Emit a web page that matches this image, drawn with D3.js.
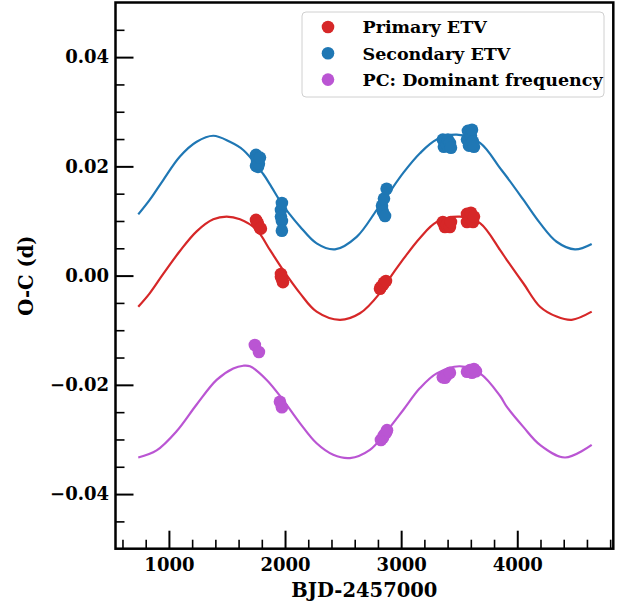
<!DOCTYPE html>
<meta charset="utf-8">
<script src="https://d3js.org/d3.v7.min.js"></script>
<style>
  body { margin: 0; background: #fff; }
  text { font-family: "DejaVu Serif", serif; font-weight: bold; }
</style>
<div id="chart"></div>
<script>
// fitted model curves
var secFitT  = [736, 836, 951, 1095, 1239, 1382, 1525, 1640, 1812, 1870, 1971, 2042, 2128, 2272, 2430, 2617, 2789, 2875, 3018, 3162, 3306, 3478, 3679, 3851, 3909, 4052, 4196, 4339, 4497, 4641]
var secFitOC = [0.0112, 0.0139, 0.0175, 0.0218, 0.0245, 0.0256, 0.0245, 0.0230, 0.0186, 0.0167, 0.0132, 0.0112, 0.0090, 0.0059, 0.0048, 0.0071, 0.0120, 0.0145, 0.0188, 0.0224, 0.0249, 0.0258, 0.0243, 0.0197, 0.0181, 0.0139, 0.0096, 0.0062, 0.0048, 0.0058]

var priFitT  = [736, 836, 951, 1095, 1239, 1382, 1497, 1612, 1755, 1870, 1984, 2128, 2272, 2472, 2645, 2817, 2875, 3018, 3162, 3306, 3506, 3679, 3851, 3909, 4052, 4196, 4339, 4469, 4641]
var priFitOC = [-0.0057, -0.0032, 0.0003, 0.0045, 0.0081, 0.0103, 0.0108, 0.0103, 0.0084, 0.0047, 0.0010, -0.0032, -0.0066, -0.0081, -0.0069, -0.0032, -0.0013, 0.0030, 0.0069, 0.0098, 0.0108, 0.0096, 0.0047, 0.0029, -0.0014, -0.0057, -0.0075, -0.0081, -0.0066]

var pcFitT  = [736, 894, 1066, 1239, 1411, 1554, 1640, 1698, 1842, 1984, 2128, 2272, 2415, 2559, 2731, 2875, 3018, 3162, 3306, 3506, 3679, 3851, 3909, 4052, 4196, 4411, 4641]
var pcFitOC = [-0.0333, -0.0320, -0.0285, -0.0236, -0.0191, -0.0170, -0.0165, -0.0166, -0.0191, -0.0228, -0.0270, -0.0307, -0.0328, -0.0334, -0.0319, -0.0285, -0.0246, -0.0206, -0.0179, -0.0166, -0.0179, -0.0220, -0.0240, -0.0277, -0.0310, -0.0333, -0.0310]

// measured timings
var priT  = [1750, 1758, 1767, 1784, 1792, 1965, 1965, 1973, 1982, 2818, 2826, 2843, 2852, 2869, 3359, 3377, 3394, 3420, 3429, 3567, 3567, 3593, 3601, 3619, 3627]
var priOC = [0.0102, 0.0098, 0.0095, 0.0087, 0.0086, 0.0003, -0.0002, -0.0006, -0.0012, -0.0024, -0.0021, -0.0017, -0.0013, -0.0010, 0.0098, 0.0089, 0.0093, 0.0089, 0.0098, 0.0113, 0.0098, 0.0104, 0.0115, 0.0098, 0.0108]

var secT  = [1750, 1750, 1758, 1767, 1775, 1784, 1965, 1965, 1973, 1973, 1973, 2835, 2843, 2852, 2861, 2875, 3359, 3368, 3394, 3403, 3420, 3429, 3567, 3575, 3584, 3601, 3610, 3619, 3627]
var secOC = [0.0221, 0.0201, 0.0212, 0.0199, 0.0205, 0.0216, 0.0120, 0.0108, 0.0133, 0.0100, 0.0082, 0.0128, 0.0117, 0.0141, 0.0109, 0.0159, 0.0249, 0.0236, 0.0239, 0.0249, 0.0243, 0.0234, 0.0249, 0.0265, 0.0238, 0.0256, 0.0267, 0.0245, 0.0236]

var pcT  = [1740, 1775, 1956, 1973, 2826, 2843, 2852, 2869, 2878, 3359, 3377, 3394, 3420, 3567, 3593, 3610, 3627, 3644]
var pcOC = [-0.0127, -0.0140, -0.0231, -0.0241, -0.0301, -0.0297, -0.0292, -0.0288, -0.0283, -0.0186, -0.0187, -0.0182, -0.0178, -0.0176, -0.0173, -0.0178, -0.0171, -0.0175]

var legendNames = ["Primary ETV", "Secondary ETV", "PC: Dominant frequency"]
var xMajor = [1000, 2000, 3000, 4000]
var yMajor = [-0.04, -0.02, 0.00, 0.02, 0.04]

var red = "#d62728", blue = "#1f77b4", purple = "#ba55d3"

var width = 629, height = 607
var pL = 115.5, pR = 613.3, pT = 2.5, pB = 548.7

var svg = d3.select("#chart").append("svg")
    .attr("width", width)
    .attr("height", height)

var x = d3.scaleLinear().domain([540, 4827]).range([pL, pR])
var y = d3.scaleLinear().domain([-0.05, 0.05]).range([pB, pT])

function zip(a, b) { return a.map(function(d, i) { return [d, b[i]] }) }

// minor ticks
var xMinor = d3.range(600, 4801, 200).filter(function(d) { return d % 1000 != 0 })
var yMinor = d3.range(-45, 46, 5).map(function(d) { return d / 1000 }).filter(function(d) { return Math.round(d * 1000) % 20 != 0 })

svg.append("g")
    .attr("transform", "translate(0," + pB + ")")
    .call(d3.axisBottom(x).tickValues(xMinor).tickSize(-9).tickFormat(""))
    .call(function(g) { g.select(".domain").remove() })
    .selectAll("line").attr("stroke-width", 1.6)

svg.append("g")
    .attr("transform", "translate(" + pL + ",0)")
    .call(d3.axisLeft(y).tickValues(yMinor).tickSize(-9).tickFormat(""))
    .call(function(g) { g.select(".domain").remove() })
    .selectAll("line").attr("stroke-width", 1.6)

var xAxis = svg.append("g")
    .attr("transform", "translate(0," + pB + ")")
    .call(d3.axisBottom(x).tickValues(xMajor).tickSizeInner(-18).tickSizeOuter(0).tickPadding(9.5).tickFormat(d3.format("d")))
xAxis.select(".domain").remove()
xAxis.selectAll("line").attr("stroke-width", 2)
xAxis.selectAll("text").attr("font-size", 18).attr("fill", "#000")
    .style("font-family", "DejaVu Serif").style("font-weight", "bold")

var yAxis = svg.append("g")
    .attr("transform", "translate(" + pL + ",0)")
    .call(d3.axisLeft(y).tickValues(yMajor).tickSizeInner(-18).tickSizeOuter(0).tickPadding(6.5)
      .tickFormat(function(d) { return d3.format(".2f")(d).replace("-", "\u2212") }))
yAxis.select(".domain").remove()
yAxis.selectAll("line").attr("stroke-width", 2)
yAxis.selectAll("text").attr("font-size", 18).attr("fill", "#000")
    .style("font-family", "DejaVu Serif").style("font-weight", "bold")

// frame
svg.append("rect")
    .attr("x", pL).attr("y", pT)
    .attr("width", pR - pL).attr("height", pB - pT)
    .attr("fill", "none").attr("stroke", "#000").attr("stroke-width", 2.5)

// axis labels
svg.append("text")
    .attr("x", (pL + pR) / 2).attr("y", 597)
    .attr("text-anchor", "middle").attr("font-size", 19.5)
    .text("BJD-2457000")

svg.append("text")
    .attr("transform", "translate(33," + ((pT + pB) / 2) + ") rotate(-90)")
    .attr("text-anchor", "middle").attr("font-size", 19.5)
    .text("O-C (d)")

// fit curves
var line = d3.line()
    .x(function(d) { return x(d[0]) })
    .y(function(d) { return y(d[1]) })
    .curve(d3.curveCatmullRom.alpha(0.5))

var fits = [[priFitT, priFitOC, red], [secFitT, secFitOC, blue], [pcFitT, pcFitOC, purple]]
fits.forEach(function(f) {
  svg.append("path")
    .datum(zip(f[0], f[1]))
    .attr("d", line)
    .attr("fill", "none")
    .attr("stroke", f[2])
    .attr("stroke-width", 2.2)
})

// measured points
var sets = [[priT, priOC, red], [secT, secOC, blue], [pcT, pcOC, purple]]
sets.forEach(function(s) {
  svg.append("g")
    .selectAll("circle")
    .data(zip(s[0], s[1]))
    .enter().append("circle")
      .attr("cx", function(d) { return x(d[0]) })
      .attr("cy", function(d) { return y(d[1]) })
      .attr("r", 6.3)
      .attr("fill", s[2])
})

// legend
var leg = svg.append("g")
leg.append("rect")
    .attr("x", 302).attr("y", 12)
    .attr("width", 302).attr("height", 85)
    .attr("rx", 4)
    .attr("fill", "#fff").attr("fill-opacity", 0.8)
    .attr("stroke", "#d0d0d0").attr("stroke-width", 1)

var legColors = [red, blue, purple]
legendNames.forEach(function(name, i) {
  var cy = 27 + i * 26.3
  leg.append("circle")
    .attr("cx", 328).attr("cy", cy).attr("r", 6.3)
    .attr("fill", legColors[i])
  leg.append("text")
    .attr("x", 362.5).attr("y", cy + 6.3)
    .attr("font-size", 17.5)
    .text(name)
})
</script>
